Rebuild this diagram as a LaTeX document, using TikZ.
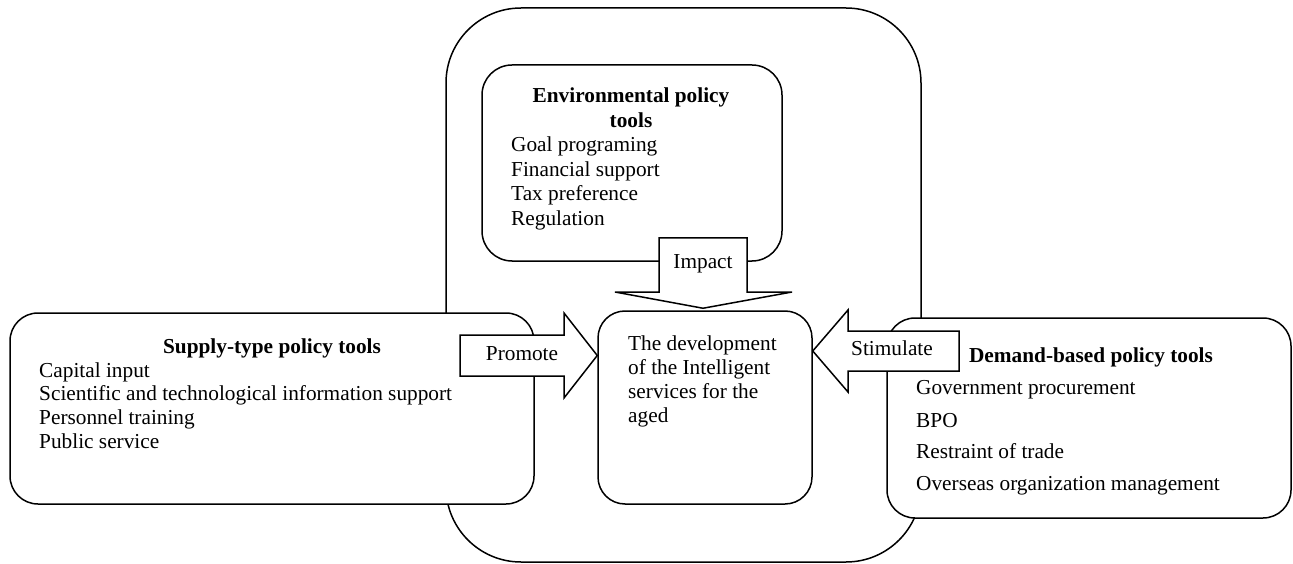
\documentclass[tikz,border=0pt]{standalone}
\usepackage{fontspec}
\setmainfont{Liberation Serif}
\usetikzlibrary{calc}
\begin{document}
\begin{tikzpicture}[x=1pt,y=-1pt,
  frame/.style={draw=black, line width=1.5pt, fill=white, rounded corners=#1, inner sep=0pt},
  blk/.style={draw=black, line width=1.5pt, fill=white, line join=miter},
  txt/.style={font=\fontsize{21.3}{24}\selectfont, inner sep=0pt, anchor=base west},
  ttl/.style={font=\fontsize{21.3}{24}\selectfont\bfseries, inner sep=0pt, anchor=base},
  lbl/.style={font=\fontsize{21.3}{24}\selectfont, inner sep=0pt, anchor=base}]
\useasboundingbox (0,0) rectangle (1293,564);
% boxes
\node[frame=75pt, minimum width=475pt, minimum height=554pt] (outer) at (683.5,285) {};
\node[frame=30pt, minimum width=300pt, minimum height=196pt] (env) at (632,163) {};
\node[frame=28pt, minimum width=524pt, minimum height=191pt] (supply) at (272,408.5) {};
\node[frame=28pt, minimum width=404pt, minimum height=200pt] (demand) at (1089,418) {};
\node[frame=27pt, minimum width=214pt, minimum height=193pt] (ctr) at (705,407.5) {};
% block arrows
\coordinate (itip) at ($(ctr.north)+(-2,-2)$);
\draw[blk] (659,238) -- (747,238) -- (747,292) -- (792,292) -- (itip) -- (615,292) -- (659,292) -- cycle;
\coordinate (ptip) at (ctr.west |- 0,355.5);
\draw[blk] (460,335) -- (564,335) -- (564,313) -- (ptip) -- (564,398) -- (564,376) -- (460,376) -- cycle;
\coordinate (stip) at (ctr.east |- 0,351);
\draw[blk] (959,331) -- (848,331) -- (848,310) -- (stip) -- (848,392) -- (848,371) -- (959,371) -- cycle;
\node[lbl] (limpact) at (703,268) {Impact};
\node[lbl] (lpromote) at (522,360) {Promote};
\node[lbl] (lstim) at (892,355) {Stimulate};
% environmental
\node[ttl] (et1) at (631,103) {Environmental policy};
\node[ttl] (et2) at (631,128) {tools};
\foreach \t [count=\i] in {Goal programing, Financial support, Tax preference, Regulation}
  \node[txt] (e\i) at (511,{127.6+24.4*\i}) {\t};
% supply
\node[ttl] (st) at (272,353) {Supply-type policy tools};
\node[txt] (s1) at (39,377) {Capital input};
\node[txt] (s2) at (39,400) {Scientific and technological information support};
\node[txt] (s3) at (39,424) {Personnel training};
\node[txt] (s4) at (39,448) {Public service};
% center
\foreach \t [count=\i] in {The development, of the Intelligent, services for the, aged}
  \node[txt] (c\i) at (628,{325.7+24.3*\i}) {\t};
% demand
\node[ttl] (dt) at (1091,362) {Demand-based policy tools};
\node[txt] (d1) at (916,394) {Government procurement};
\node[txt] (d2) at (916,427) {BPO};
\node[txt] (d3) at (916,458) {Restraint of trade};
\node[txt] (d4) at (916,490) {Overseas organization management};
\end{tikzpicture}
\end{document}
